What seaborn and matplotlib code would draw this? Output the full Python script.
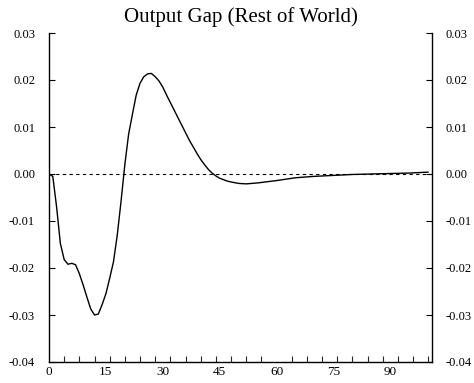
import matplotlib
matplotlib.use("Agg")
import matplotlib.pyplot as plt
import seaborn as sns
import pandas as pd
from matplotlib.ticker import MultipleLocator

title = "Output Gap (Rest of World)"

periods = [0, 1, 2, 3, 4, 5, 6, 7, 8, 9, 10, 11, 12, 13, 14, 15, 16, 17, 18, 19,
           20, 21, 22, 23, 24, 25, 26, 27, 28, 29, 30, 31, 32, 33, 34, 35, 36, 37,
           38, 39, 40, 41, 42, 43, 44, 45, 46, 47, 48, 50, 52, 55, 60, 65, 70, 75,
           80, 85, 90, 95, 100]
output_gap = [0.0, -0.0005, -0.0070, -0.0148, -0.0182, -0.0192, -0.0190, -0.0193,
              -0.0212, -0.0236, -0.0262, -0.0287, -0.0300, -0.0298, -0.0278, -0.0255,
              -0.0222, -0.0187, -0.0130, -0.0058, 0.0020, 0.0085, 0.0127, 0.0168,
              0.0193, 0.0207, 0.0213, 0.0214, 0.0207, 0.0198, 0.0185, 0.0168, 0.0152,
              0.0136, 0.0120, 0.0104, 0.0088, 0.0072, 0.0058, 0.0044, 0.0031, 0.0020,
              0.0010, 0.0002, -0.0004, -0.0009, -0.0012, -0.0015, -0.0017, -0.0020,
              -0.0021, -0.0019, -0.0014, -0.0008, -0.0005, -0.0003, -0.0001, 0.0000,
              0.0001, 0.0002, 0.0004]

x_ticks = [0, 15, 30, 45, 60, 75, 90]
y_ticks = [-0.04, -0.03, -0.02, -0.01, 0.00, 0.01, 0.02, 0.03]
y_tick_labels = ["-0.04", "-0.03", "-0.02", "-0.01", "0.00", "0.01", "0.02", "0.03"]

sns.set_style("ticks")
plt.rcParams["font.family"] = ["Liberation Serif", "DejaVu Serif"]
plt.rcParams["text.color"] = "black"
plt.rcParams["axes.titlecolor"] = "black"

df = pd.DataFrame({"period": periods, "gap": output_gap})

fig = plt.figure(figsize=(4.74, 3.83), dpi=100)
ax = fig.add_axes([49 / 474, 1 - 362 / 383, (432 - 49) / 474, (362 - 33) / 383])

ax.axhline(0, color="black", linestyle=(0, (3, 3)), linewidth=0.8, zorder=1)
sns.lineplot(data=df, x="period", y="gap", ax=ax, color="black", linewidth=1.0, zorder=2)

ax.set_xlim(0, 101)
ax.set_ylim(-0.04, 0.03)
ax.set_xticks(x_ticks)
ax.set_xticklabels([str(t) for t in x_ticks])
ax.xaxis.set_minor_locator(MultipleLocator(4))
ax.set_yticks(y_ticks)
ax.set_yticklabels(y_tick_labels)
ax.set_xlabel("")
ax.set_ylabel("")

for s in ["left", "right", "bottom"]:
    ax.spines[s].set_visible(True)
    ax.spines[s].set_color("black")
    ax.spines[s].set_linewidth(1.0)
ax.spines["top"].set_visible(False)

ax.tick_params(axis="y", which="both", direction="in", left=True, right=True,
               labelleft=True, labelright=True, length=4, width=0.8,
               labelsize=9, pad=10, colors="black")
ax.tick_params(axis="x", which="major", direction="in", bottom=True, top=False,
               length=0, labelsize=9.5, pad=3, colors="black")
ax.tick_params(axis="x", which="minor", direction="in", bottom=True, top=False,
               length=4, width=0.8)

ax.set_title(title, fontsize=15, pad=8, color="black")

fig.savefig("out.png", dpi=100)
